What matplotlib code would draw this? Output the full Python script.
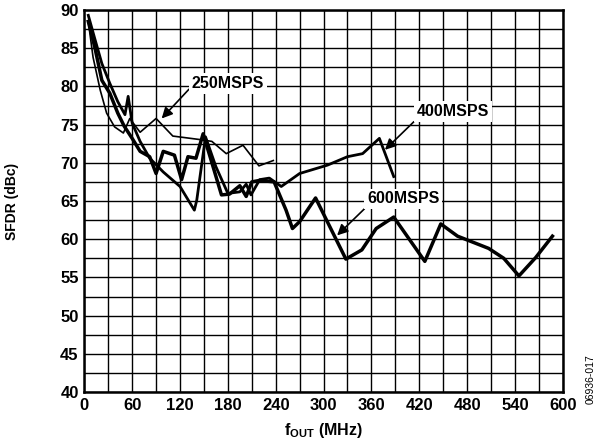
import matplotlib
matplotlib.use("Agg")
import matplotlib.pyplot as plt
import numpy as np

plt.rcParams['font.family'] = ['Liberation Sans', 'DejaVu Sans']
plt.rcParams['font.weight'] = 'bold'
plt.rcParams['mathtext.fontset'] = 'custom'
plt.rcParams['mathtext.rm'] = 'Liberation Sans:bold'
plt.rcParams['mathtext.bf'] = 'Liberation Sans:bold'

# region data
f_250 = [5, 11, 20, 28, 38, 49, 57, 70, 90, 111, 148, 160, 178, 199, 219, 237]
sfdr_250 = [88.5, 83.8, 79.5, 76.5, 74.7, 73.9, 75.8, 74.0, 75.8, 73.5, 73.0,
            72.8, 71.2, 72.3, 69.6, 70.3]

f_400 = [5, 13, 22, 32, 42, 51, 55, 60, 70, 82, 99, 120, 138, 141, 152, 165,
         180, 195, 203, 209, 220, 232, 247, 270, 305, 330, 349, 370, 388]
sfdr_400 = [89.3, 86.3, 83.0, 80.4, 78.0, 76.3, 78.7, 75.2, 72.8, 70.6, 68.8,
            66.9, 63.8, 65.1, 73.4, 69.5, 66.0, 66.2, 67.2, 65.8, 67.8, 68.0,
            66.9, 68.6, 69.7, 70.8, 71.2, 73.2, 68.2]

f_600 = [5, 13, 22, 32, 42, 50, 60, 70, 82, 90, 99, 113, 122, 130, 140, 149,
         160, 172, 182, 195, 203, 210, 220, 238, 253, 261, 270, 290, 328, 348,
         366, 388, 427, 447, 468, 507, 526, 545, 566, 587]
sfdr_600 = [88.5, 85.2, 80.8, 79.1, 76.5, 74.8, 73.2, 71.5, 70.8, 68.6, 71.5,
            71.0, 67.8, 70.8, 70.6, 73.8, 70.0, 65.8, 65.9, 67.0, 65.6, 67.5,
            67.7, 67.5, 63.8, 61.4, 62.3, 65.4, 57.4, 58.6, 61.4, 62.9, 57.1,
            62.0, 60.4, 58.8, 57.5, 55.2, 57.6, 60.4]

x_ticks = [0, 60, 120, 180, 240, 300, 360, 420, 480, 540, 600]
y_ticks = [40, 45, 50, 55, 60, 65, 70, 75, 80, 85, 90]
# endregion

fig = plt.figure(figsize=(6, 4.46), dpi=100)
ax = fig.add_axes([0.1405, 0.121, 0.7975, 0.8566])

ax.set_xlim(0, 600)
ax.set_ylim(40, 90)
ax.set_xticks(x_ticks)
ax.set_yticks(y_ticks)
ax.set_xticks(np.arange(0, 601, 30), minor=True)
ax.set_yticks(np.arange(40, 90.1, 2.5), minor=True)
ax.grid(which='both', color='black', lw=1.0)
ax.tick_params(which='both', length=0, labelsize=12, pad=4)
for lab in ax.get_xticklabels() + ax.get_yticklabels():
    lab.set_fontweight('bold')
for s in ax.spines.values():
    s.set_linewidth(1.8)

ax.plot(f_250, sfdr_250, color='black', lw=1.2, zorder=3)
ax.plot(f_400, sfdr_400, color='black', lw=2.0, zorder=3)
ax.plot(f_600, sfdr_600, color='black', lw=2.5, zorder=3)

box = dict(facecolor='white', edgecolor='none', pad=2)
arrow = dict(arrowstyle='-|>', color='black', lw=1.2, mutation_scale=16,
             shrinkA=0, shrinkB=0)
ax.annotate('250MSPS', xy=(97, 75.8), xytext=(180, 80.4), fontsize=11.5,
            fontweight='bold', ha='center', va='center', bbox=box,
            arrowprops=dict(arrow, relpos=(0.0, 0.3)), zorder=5)
ax.annotate('400MSPS', xy=(377, 71.7), xytext=(462, 76.7), fontsize=11.5,
            fontweight='bold', ha='center', va='center', bbox=box,
            arrowprops=dict(arrow, relpos=(0.0, 0.0)), zorder=5)
ax.annotate('600MSPS', xy=(317, 60.5), xytext=(400, 65.3), fontsize=11.5,
            fontweight='bold', ha='center', va='center', bbox=box,
            arrowprops=dict(arrow, relpos=(0.0, 0.0)), zorder=5)

ax.set_ylabel('SFDR (dBc)', fontsize=10, fontweight='bold', labelpad=30)
ax.set_xlabel(r'$\mathbf{f_{OUT}}$ (MHz)', fontsize=11.5, fontweight='bold',
              labelpad=6)

fig.text(0.985, 0.15, '06936-017', rotation=90, fontsize=7.5,
         fontweight='normal', ha='center', va='center')

fig.savefig('out.png', dpi=100)
